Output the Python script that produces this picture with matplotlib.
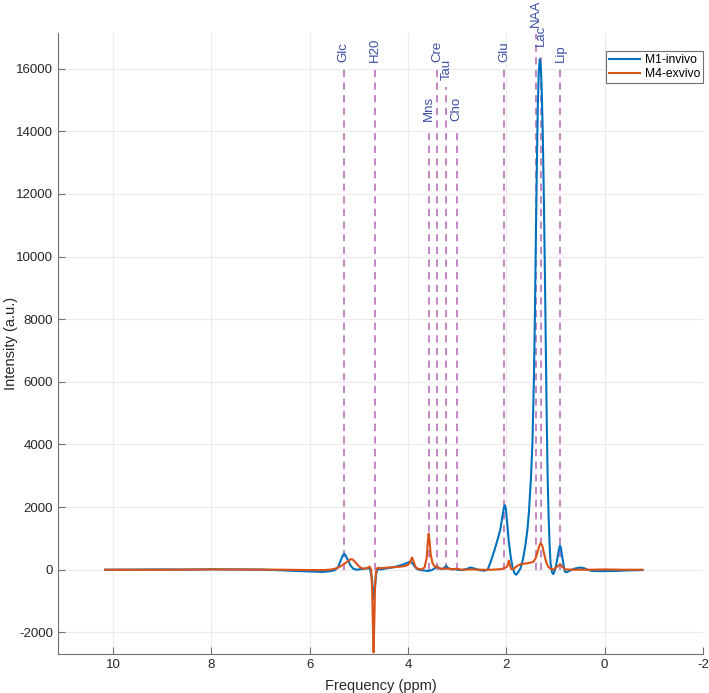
import matplotlib
matplotlib.use("Agg")
import matplotlib.pyplot as plt

plt.rcParams['font.family'] = ['Liberation Sans', 'DejaVu Sans']
plt.rcParams['axes.unicode_minus'] = False

# M1-invivo (blue)
ppm_m1 = [10.16, 9.5, 9.0, 8.5, 8.0, 7.5, 7.0, 6.7, 6.4, 6.1, 5.9, 5.75, 5.6, 5.5,
          5.43, 5.38, 5.33, 5.30, 5.27, 5.22, 5.17, 5.12, 5.05, 4.95, 4.85, 4.78,
          4.74, 4.71, 4.70, 4.68, 4.65, 4.62, 4.55, 4.45, 4.3, 4.15, 4.05, 3.97,
          3.93, 3.88, 3.83, 3.78, 3.65, 3.58, 3.5, 3.45, 3.41, 3.37, 3.30, 3.25,
          3.22, 3.19, 3.12, 3.05, 3.0, 2.9, 2.8, 2.73, 2.65, 2.55, 2.45, 2.38,
          2.32, 2.25, 2.18, 2.12, 2.08, 2.05, 2.03, 2.01, 1.98, 1.95, 1.91, 1.87,
          1.83, 1.80, 1.76, 1.71, 1.66, 1.61, 1.57, 1.54, 1.50, 1.47, 1.44, 1.42,
          1.40, 1.38, 1.36, 1.34, 1.32, 1.30, 1.28, 1.26, 1.24, 1.22, 1.20,
          1.18, 1.16, 1.14, 1.12, 1.10, 1.07, 1.045, 1.02, 0.99, 0.96, 0.93, 0.91,
          0.89, 0.86, 0.83, 0.81, 0.77, 0.7, 0.6, 0.5, 0.42, 0.35, 0.25, 0.1,
          -0.2, -0.5, -0.77]
int_m1 = [0, 5, 10, 5, 15, 10, 5, -10, -30, -50, -60, -70, -50, -20,
          60, 250, 450, 510, 460, 300, 140, 40, 0, 20, 40, 50,
          -200, -700, -930, -700, -150, 20, 10, 40, 80, 140, 200, 250,
          240, 140, 40, 0, -30, -40, 0, 60, 110, 40, 20, 80,
          120, 60, 10, 20, 0, -10, 30, 70, 40, -10, -30, 0,
          250, 580, 950, 1300, 1700, 1980, 2060, 1950, 1450, 900, 400, 50,
          -120, -160, -80, 50, 350, 800, 1300, 1850, 2900, 4000, 6000, 8000,
          10500, 12800, 14800, 15900, 16300, 16100, 15300, 14000, 12200, 10000, 7500,
          5000, 3000, 1700, 800, 200, -80, -140, -50, 120, 380, 650, 770,
          700, 380, 90, -60, -80, -20, 40, 70, 50, 0, -40, -45,
          -40, -20, -10]

# M4-exvivo (orange)
ppm_m4 = [10.16, 9.0, 8.0, 7.0, 6.5, 6.0, 5.7, 5.55, 5.45, 5.35, 5.26, 5.2, 5.16,
          5.12, 5.06, 5.0, 4.93, 4.85, 4.78, 4.75, 4.73, 4.715, 4.70, 4.685, 4.67,
          4.65, 4.62, 4.55, 4.4, 4.2, 4.05, 3.98, 3.95, 3.92, 3.89, 3.85, 3.8,
          3.72, 3.66, 3.62, 3.60, 3.58, 3.56, 3.54, 3.5, 3.45, 3.41, 3.37, 3.3,
          3.22, 3.1, 3.01, 2.9, 2.7, 2.5, 2.3, 2.1, 2.0, 1.97, 1.95, 1.93, 1.9,
          1.85, 1.78, 1.7, 1.6, 1.5, 1.45, 1.40, 1.36, 1.32, 1.30, 1.27, 1.23,
          1.19, 1.15, 1.10, 1.05, 1.0, 0.95, 0.90, 0.86, 0.8, 0.6, 0.3, 0.0,
          -0.4, -0.77]
int_m4 = [0, 0, 10, 5, 0, -10, -10, 10, 50, 130, 230, 300, 340,
          320, 220, 110, 40, 40, 100, 0, -600, -1700, -2640, -1600, -500,
          -50, 60, 50, 70, 90, 120, 180, 280, 390, 280, 100, 30,
          10, 80, 400, 850, 1150, 900, 500, 200, 90, 110, 50, 30,
          40, 20, 30, 0, 10, 0, 0, 20, 80, 150, 290, 160, 20,
          30, 120, 180, 200, 230, 250, 380, 600, 800, 850, 780, 500,
          250, 100, 30, 0, 60, 120, 160, 90, 10, 0, 0, 10,
          0, 0]

# metabolite markers
met_names = ['Glc', 'H20', 'Mns', 'Cre', 'Tau', 'Cho', 'Glu', 'NAA', 'Lac', 'Lip']
met_ppm = [5.31, 4.68, 3.58, 3.41, 3.22, 3.01, 2.05, 1.405, 1.29, 0.90]
met_top = [16000, 16000, 14100, 16000, 15400, 14100, 16000, 17100, 16500, 16000]

fig = plt.figure(figsize=(7.09, 6.93), dpi=100)
ax = fig.add_axes([0.0818, 0.0563, 0.9097, 0.8957])

for name, p, top in zip(met_names, met_ppm, met_top):
    ax.plot([p, p], [0, top], color='#c07cc0', linestyle=(0, (4, 3)), lw=1.3, zorder=1)
    ax.annotate(name, (p, top), xytext=(0, 5), textcoords='offset points',
                rotation=90, ha='center', va='bottom', fontsize=9.5,
                color='#3a4ea6', annotation_clip=False)

ax.plot(ppm_m1, int_m1, color='#0072BD', lw=1.5, label='M1-invivo', zorder=3)
ax.plot(ppm_m4, int_m4, color='#D95319', lw=1.5, label='M4-exvivo', zorder=3)

ax.set_xlim(11.12, -2)
ax.set_ylim(-2690, 17130)
ax.set_xticks(range(10, -3, -2))
ax.set_yticks(range(-2000, 16001, 2000))

ax.grid(True, color='#ebebeb', lw=0.8)
ax.set_axisbelow(True)
for s in ['top', 'right']:
    ax.spines[s].set_visible(False)
for s in ['left', 'bottom']:
    ax.spines[s].set_color('#707070')
ax.tick_params(direction='in', length=5, color='#707070', labelsize=9.5,
               labelcolor='#262626')

ax.set_xlabel('Frequency (ppm)', fontsize=10.5, color='#262626', labelpad=6)
ax.set_ylabel('Intensity (a.u.)', fontsize=10.5, color='#262626')
ax.yaxis.set_label_coords(-0.062, 0.5)

leg = ax.legend(loc='upper right', bbox_to_anchor=(1.0, 0.971), fontsize=8.7,
                fancybox=False, framealpha=1, edgecolor='#707070',
                handlelength=2.6, borderpad=0.25, labelspacing=0.15,
                handletextpad=0.35, borderaxespad=0)
leg.get_frame().set_linewidth(0.8)

fig.savefig('out.png', dpi=100)
